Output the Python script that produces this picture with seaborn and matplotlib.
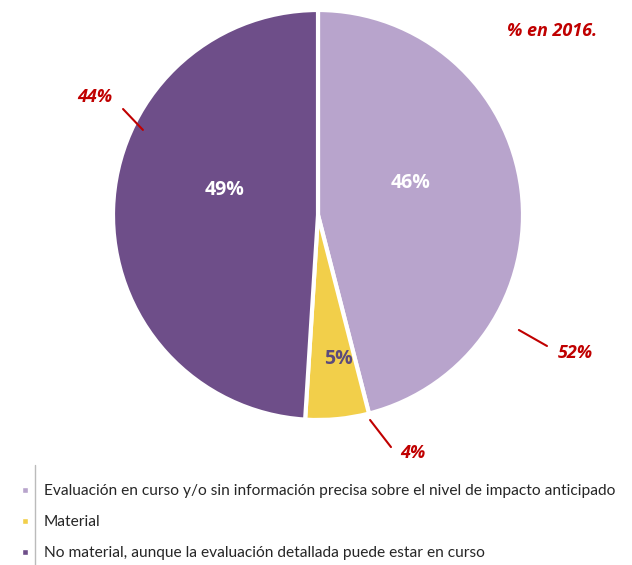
"""Pie chart: materialidad del impacto, % en 2016."""

import matplotlib.pyplot as plt
from matplotlib.lines import Line2D
import seaborn as sns

categorias = [
    "Evaluación en curso y/o sin información precisa sobre el nivel de impacto anticipado",
    "Material",
    "No material, aunque la evaluación detallada puede estar en curso",
]
valores_2016 = [46, 5, 49]
valores_anteriores = ["52%", "4%", "44%"]

_LIGHT = "#B8A4CC"
_YELLOW = "#F2CF4A"
_DARK = "#6E4E89"
_RED = "#C00000"
colores = [_LIGHT, _YELLOW, _DARK]

sns.set_theme(style="white")
plt.rcParams["font.family"] = ["Lato", "DejaVu Sans"]

W, H = 632, 565
fig = plt.figure(figsize=(W / 100, H / 100), dpi=100)
fig.patch.set_facecolor("white")

cx, cy, r = 318, 215, 205
ax = fig.add_axes([(cx - r) / W, (H - cy - r) / H, 2 * r / W, 2 * r / H])

wedges, _ = ax.pie(valores_2016, colors=colores, startangle=90, counterclock=False,
                   radius=1, wedgeprops={"edgecolor": "white", "linewidth": 3})
ax.set_xlim(-1, 1)
ax.set_ylim(-1, 1)
ax.axis("off")
for w in wedges:
    w.set_clip_on(False)

# etiquetas internas
pos_int = [(0.45, 0.155), (0.10, -0.70), (-0.455, 0.12)]
col_int = ["white", "#5B4A7C", "white"]
for v, (x, y), c in zip(valores_2016, pos_int, col_int):
    ax.text(x, y, f"{v}%", ha="center", va="center", color=c,
            fontsize=14, fontweight="bold", family=["Open Sans", "DejaVu Sans"])

# valores anteriores (rojo) con líneas guía
pos_ext = [(1.255, -0.675), (0.465, -1.16), (-1.09, 0.575)]
lineas = [((0.98, -0.561), (1.117, -0.639)),
          ((0.254, -1.0), (0.356, -1.132)),
          ((-0.951, 0.517), (-0.854, 0.415))]
for txt, (x, y), (p0, p1) in zip(valores_anteriores, pos_ext, lineas):
    ax.text(x, y, txt, ha="center", va="center", color=_RED, fontsize=13,
            fontweight="bold", fontstyle="italic", clip_on=False,
            family=["Open Sans", "DejaVu Sans"])
    ax.plot([p0[0], p1[0]], [p0[1], p1[1]], color=_RED, lw=1.5, clip_on=False)

fig.text(552 / W, 1 - 31 / H, "% en 2016.", ha="center", va="center", color=_RED,
         fontsize=13, fontweight="bold", fontstyle="italic",
         family=["Open Sans", "DejaVu Sans"])

# leyenda
handles = [Line2D([], [], marker="s", ls="", markersize=5, color=c,
                  markeredgecolor="white") for c in colores]
fig.legend(handles, categorias, loc="upper left", bbox_to_anchor=(14 / W, 1 - 478 / H),
           frameon=False, fontsize=11.2, handlelength=0.6, handletextpad=0.9,
           labelspacing=1.1, borderaxespad=0)
fig.add_artist(Line2D([35 / W, 35 / W], [0, 1 - 465 / H], color="#BBBBBB", lw=1))

fig.savefig("out.png", dpi=100, facecolor="white")
